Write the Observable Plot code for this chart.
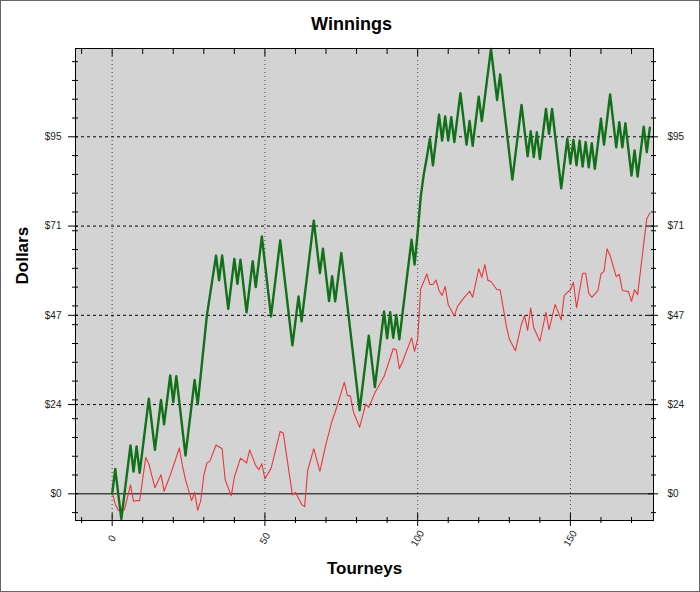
<!DOCTYPE html>
<html><head><meta charset="utf-8">
<script src="https://cdn.jsdelivr.net/npm/d3@7"></script>
<script src="https://cdn.jsdelivr.net/npm/@observablehq/plot@0.6"></script>
<style>
html,body{margin:0;padding:0;background:#fff;}
#chart svg{display:block;outline:1px solid #666;outline-offset:-1px;}
</style></head><body><div id="chart"></div>
<script>
// Green series (vertices): tourney number and cumulative dollars
const greenTourney = [0,1,3,6,7,8,9,12,14,16,17,19,20,21,24,27,28,31,34,35,36,38,40,41,42,44,46,47,49,52,55,59,61,62,66,68,69,71,72,73,75,81,84,86,89,90,91,92,93,94,98,99,100,101,102,103,104,105,107,108,109,110,111,112,114,116,117,118,120,121,124,126,127,131,134,136,137,138,139,140,142,143,144,147,149,150,151,152,153,154,155,156,157,158,160,161,163,165,166,167,168,170,171,172,174,175,176];
const greenDollars = [0,6.6,-6.7,12.9,5.9,12.6,5.6,25.3,11.7,25,18.5,31.5,24.4,31.3,10.2,30.3,23.8,47.4,63.4,56.8,63.4,49.2,62.5,55.9,62.3,48.3,61.9,55,68.5,47.2,67.4,39.5,52.5,45.9,72.7,58.7,65.2,51.3,57.9,51.2,64.1,22.2,42.1,28.4,48.5,41.4,48.3,41.5,47.6,41.1,67.6,61,69.5,79,85,89.5,94.5,87.4,100.9,94,100.4,94,100.2,93.6,106.6,92.9,99.2,92.6,105.7,99.2,118.4,104.8,111.6,83.6,103.5,89.8,96.5,89.6,96.2,89.1,102.4,95.8,102.4,81.3,94.5,87.8,94.2,87.4,94,87.1,93.6,86.9,93.3,86.5,99.8,92.9,106.3,92.2,98.9,92.2,98.6,84.7,91.4,84.4,97.7,90.9,97.4];
// Red series (vertices)
const redTourney = [0,1,2,4,6,7,8,9,11,12,14,16,17,19,22,23,24,26,27,28,29,30,31,32,34,36,37,39,40,42,44,45,47,48,49,50,52,55,56,59,60,62,63,64,66,68,70,72,73,76,77,78,79,81,83,84,86,89,92,93,94,95,98,99,100,101,103,104,105,106,107,108,109,110,112,113,115,117,118,120,121,122,123,124,126,127,129,130,132,134,135,136,137,138,140,142,143,145,147,148,150,151,152,154,155,156,157,159,160,161,162,163,165,166,167,169,170,171,172,174,175,176];
const redDollars = [0.5,-2.7,-4.4,-4.3,2.4,-2,-1.8,-1.8,9.7,8,1.6,5.1,0.7,4.9,12.2,7.5,3.8,-1.8,0.4,-4.4,-1.8,4.9,8.2,8.7,13,12,3.7,-0.5,4.4,9.5,8.2,11.7,7.5,6.4,8,4,6.7,16.6,16.2,-0.3,0.4,-2.8,-3.4,6.2,12,6,13.3,19.5,21.7,29.7,26.2,26,21.7,17.7,23.9,23,26.9,31.2,38.6,38.3,33.3,35,41.5,37.9,41.2,54.5,58.5,55.7,55.7,56.9,54.1,52.8,55.2,50.4,47.3,49.8,52,53.9,52.3,59.9,57.6,61,56.8,56.5,54.3,54.3,44.8,41.2,38.1,45.2,47.4,43.5,49.5,44.2,40.6,48.3,43.7,50.4,46.3,52.8,54.3,56.3,49.5,58.7,58.7,53.4,52.3,54.1,58.5,59.2,65.2,63.4,57.8,58.4,54.1,53.8,51.2,54.3,53,66.5,73.2,74.7];

const xMajorTicks = [0,50,100,150];
const xMinorTicks = [-10,10,20,30,40,60,70,80,90,110,120,130,140,160,170];
const yMajorTicks = [0,23.75,47.5,71.25,95];
const yTickLabels = ["$0","$24","$47","$71","$95"];
const yMinorTicks = [-5,5,10,15,20,25,30,35,40,45,50,55,60,65,70,75,80,85,90,100,105,110,115];

const green = greenTourney.map((t,i)=>({t, v: greenDollars[i]}));
const red = redTourney.map((t,i)=>({t, v: redDollars[i]}));
const blank = () => "";

const chart = Plot.plot({
  width: 700, height: 592,
  marginLeft: 75, marginRight: 47, marginTop: 48, marginBottom: 72,
  style: {fontFamily: "'Liberation Sans', Arial, sans-serif", background: "#fff", color: "#000"},
  x: {domain: [-12, 177.2]},
  y: {domain: [-7.1, 118.5]},
  marks: [
    Plot.frame({fill: "#d3d3d3"}),
    Plot.ruleX(xMajorTicks, {x: d=>d, stroke: "#444", strokeDasharray: "1,3"}),
    Plot.ruleY(yMajorTicks.slice(1), {y: d=>d, stroke: "#000", strokeDasharray: "3,3"}),
    Plot.ruleY([0], {y: d=>d, stroke: "#000"}),
    Plot.line(red, {x: "t", y: "v", stroke: "#e8383d", strokeWidth: 1.1}),
    Plot.line(green, {x: "t", y: "v", stroke: "#12701a", strokeWidth: 2.4}),
    Plot.frame({stroke: "#000"}),
    // bottom ticks
    Plot.axisX(xMinorTicks, {anchor: "bottom", tickSize: 6, dy: -3, tickFormat: blank, label: null}),
    Plot.axisX(xMajorTicks, {anchor: "bottom", tickSize: 13, dy: -7, tickFormat: blank, label: null}),
    // top ticks
    Plot.axisX(xMinorTicks, {anchor: "top", tickSize: 5, dy: 5, tickFormat: blank, label: null}),
    Plot.axisX(xMajorTicks, {anchor: "top", tickSize: 7, dy: 7, tickFormat: blank, label: null}),
    // left ticks
    Plot.axisY(yMinorTicks, {anchor: "left", tickSize: 6, dx: 3, tickFormat: blank, label: null}),
    Plot.axisY(yMajorTicks, {anchor: "left", tickSize: 10, dx: 3, tickFormat: blank, label: null}),
    // right ticks
    Plot.axisY(yMinorTicks, {anchor: "right", tickSize: 5, dx: -3, tickFormat: blank, label: null}),
    Plot.axisY(yMajorTicks, {anchor: "right", tickSize: 10, dx: -6, tickFormat: blank, label: null}),
    // tick labels
    Plot.text(xMajorTicks, {x: d=>d, text: d=>String(d), frameAnchor: "bottom", lineAnchor: "middle", dy: 18, rotate: -60, textAnchor: "middle", fontSize: 10, fill: "#222"}),
    Plot.text(yMajorTicks, {y: d=>d, text: (d,i)=>yTickLabels[i], frameAnchor: "left", lineAnchor: "middle", dx: -14, textAnchor: "end", fontSize: 10, fill: "#222"}),
    Plot.text(yMajorTicks, {y: d=>d, text: (d,i)=>yTickLabels[i], frameAnchor: "right", lineAnchor: "middle", dx: 14, textAnchor: "start", fontSize: 10, fill: "#222"}),
    // titles
    Plot.text(["Winnings"], {text: d=>d, frameAnchor: "top", lineAnchor: "middle", dy: -24, dx: -13, fontSize: 18, fontWeight: "bold", fill: "#000"}),
    Plot.text(["Tourneys"], {text: d=>d, frameAnchor: "bottom", lineAnchor: "middle", dy: 48, fontSize: 17, fontWeight: "bold", fill: "#000"}),
    Plot.text(["Dollars"], {text: d=>d, frameAnchor: "left", lineAnchor: "middle", dx: -53, rotate: -90, fontSize: 17, fontWeight: "bold", fill: "#000"})
  ]
});
document.getElementById("chart").appendChild(chart);
</script></body></html>
